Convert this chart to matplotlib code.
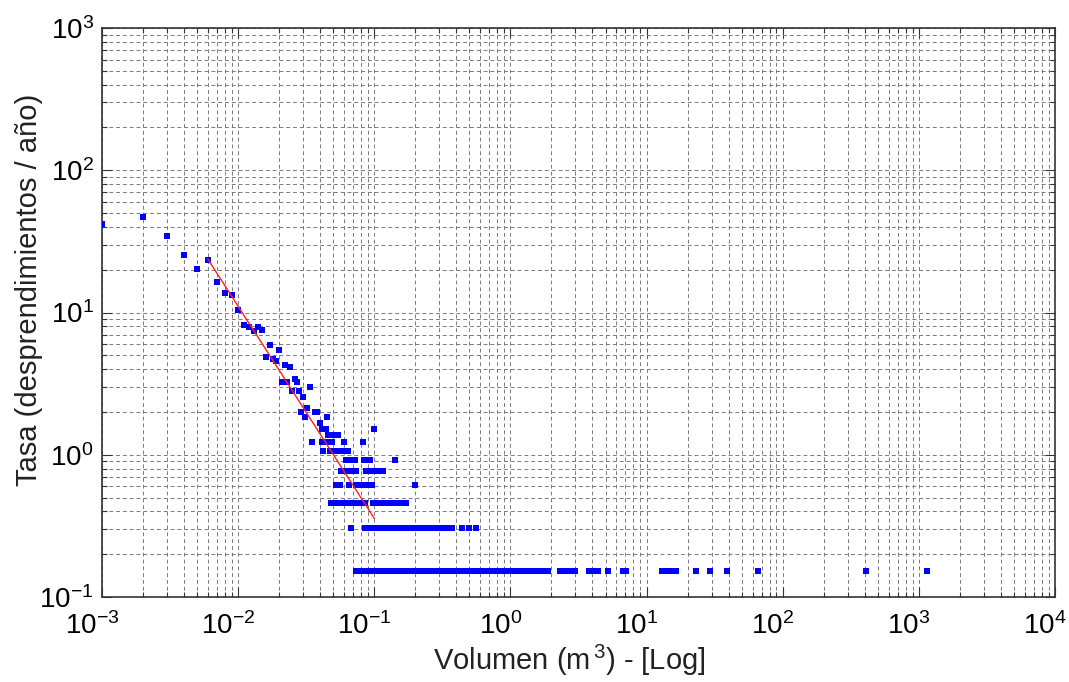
import numpy as np
import matplotlib.pyplot as plt
from matplotlib.transforms import ScaledTranslation
from matplotlib.ticker import LogLocator, NullFormatter

FUENTE = "Liberation Sans"
plt.rcParams["font.family"] = FUENTE
plt.rcParams["mathtext.fontset"] = "custom"
plt.rcParams["mathtext.rm"] = FUENTE
plt.rcParams["mathtext.it"] = FUENTE + ":italic"
plt.rcParams["mathtext.bf"] = FUENTE + ":bold"

AZUL = "#0000ff"
ROJO = "#ff2020"
GRIS = "#7a7a7a"

# Volúmenes con tasa dispersa (parte alta de la nube)
volumen_sup = [0.001, 0.002, 0.003, 0.004, 0.005, 0.006, 0.007, 0.008, 0.009, 0.010,
               0.011, 0.012, 0.013, 0.014, 0.015, 0.016, 0.017, 0.018, 0.019, 0.020,
               0.021, 0.022, 0.023, 0.024, 0.025, 0.026, 0.027, 0.028, 0.030, 0.034]
tasa_sup = [42.0, 47.0, 34.4, 25.2, 20.1, 23.3, 16.3, 13.8, 13.3, 10.4,
            8.2, 7.9, 7.4, 7.9, 7.5, 4.87, 5.9, 4.71, 4.58, 5.45,
            3.24, 4.30, 3.24, 4.16, 2.82, 3.43, 3.26, 2.82, 2.53, 2.98]

# Tasas bajas: cada nivel agrupa los volúmenes con la misma tasa
niveles = [0.153, 0.306, 0.459, 0.612, 0.765, 0.918, 1.07, 1.22, 1.38, 1.53, 1.68, 1.84, 1.99, 2.14]

vol_n1 = [0.074, 0.077, 0.082, 0.086, 0.090, 0.094, 0.098,
          0.10, 0.105, 0.11, 0.115, 0.12, 0.125, 0.13, 0.14, 0.15, 0.16, 0.17, 0.18,
          0.19, 0.20, 0.21, 0.22, 0.23, 0.24, 0.25, 0.27, 0.29, 0.31, 0.33, 0.35,
          0.37, 0.39, 0.41, 0.43, 0.46, 0.49, 0.52, 0.55, 0.58, 0.61, 0.65, 0.69,
          0.73, 0.77, 0.82, 0.87, 0.92, 0.97, 1.0, 1.05, 1.1, 1.17, 1.24, 1.31,
          1.39, 1.47, 1.56, 1.62, 1.70, 1.80, 1.90, 2.30, 2.45, 2.58, 2.80, 3.00,
          3.75, 4.0, 4.2, 4.4, 5.2, 6.7, 7.1, 13.0, 14.0, 15.2, 16.4,
          23.0, 29.0, 39.0, 66.0, 408.0, 1145.0]
vol_n2 = [0.067, 0.085, 0.089, 0.093, 0.097, 0.10, 0.105, 0.11, 0.115, 0.12,
          0.13, 0.14, 0.15, 0.16, 0.17, 0.18, 0.19, 0.20, 0.21, 0.22, 0.23,
          0.24, 0.25, 0.26, 0.27, 0.28, 0.31, 0.33, 0.35, 0.37, 0.44, 0.50, 0.56]
vol_n3 = [0.048, 0.050, 0.053, 0.056, 0.059, 0.062, 0.065, 0.069, 0.072, 0.075,
          0.078, 0.081, 0.085, 0.098, 0.107, 0.111, 0.115, 0.120, 0.124, 0.128,
          0.140, 0.146, 0.152, 0.158, 0.164, 0.170]
vol_n4 = [0.052, 0.056, 0.065, 0.073, 0.077, 0.081, 0.085, 0.089, 0.093, 0.097, 0.200]
vol_n5 = [0.057, 0.060, 0.063, 0.068, 0.071, 0.074, 0.087, 0.096, 0.100, 0.104,
          0.108, 0.112, 0.115]
vol_n6 = [0.062, 0.065, 0.068, 0.072, 0.084, 0.093, 0.143]
vol_n7 = [0.042, 0.047, 0.050, 0.055, 0.058, 0.061, 0.064]
vol_n8 = [0.035, 0.041, 0.043, 0.047, 0.049, 0.060, 0.083]
vol_n9 = [0.046, 0.051, 0.054]
vol_n10 = [0.041, 0.044, 0.100]
vol_n11 = [0.040]
vol_n12 = [0.031, 0.045]
vol_n13 = [0.029, 0.037, 0.038]
vol_n14 = [0.032]
vol_niveles = [vol_n1, vol_n2, vol_n3, vol_n4, vol_n5, vol_n6, vol_n7,
               vol_n8, vol_n9, vol_n10, vol_n11, vol_n12, vol_n13, vol_n14]

# Ajuste potencial (extremos del tramo ajustado)
ajuste_vol = [0.006, 0.1]
ajuste_tasa = [23.7, 0.357]

fig = plt.figure(figsize=(10.69, 6.82), dpi=100)
ax = fig.add_axes([0.0954, 0.1246, 0.8915, 0.8343])

ax.set_xscale("log")
ax.set_yscale("log")
ax.set_xlim(1e-3, 1e4)
ax.set_ylim(1e-1, 1e3)

ax.grid(True, which="both", color=GRIS, lw=0.7, ls=(0, (4, 3)))
ax.set_axisbelow(True)

ax.plot(volumen_sup, tasa_sup, "s", color=AZUL, ms=3.8, mew=0, zorder=3)
for nivel, vols in zip(niveles, vol_niveles):
    ax.plot(vols, [nivel] * len(vols), "s", color=AZUL, ms=3.8, mew=0, zorder=3)
ax.plot(ajuste_vol, ajuste_tasa, color=ROJO, lw=1.0, zorder=4)

ax.xaxis.set_major_locator(LogLocator(base=10, numticks=20))
ax.yaxis.set_major_locator(LogLocator(base=10, numticks=20))
ax.xaxis.set_minor_locator(LogLocator(base=10, subs=np.arange(2, 10), numticks=20))
ax.yaxis.set_minor_locator(LogLocator(base=10, subs=np.arange(2, 10), numticks=20))
ax.xaxis.set_minor_formatter(NullFormatter())
ax.yaxis.set_minor_formatter(NullFormatter())

ax.tick_params(which="both", direction="in", top=True, right=True,
               color="#333333", labelsize=20, width=0.8)
ax.tick_params(which="major", length=7)
ax.tick_params(axis="x", which="major", pad=11)
ax.tick_params(axis="y", which="major", pad=6)
ax.tick_params(which="minor", length=3.5)

# etiquetas del eje x algo desplazadas a la izquierda (estilo MATLAB)
desplaza = ScaledTranslation(-10 / 100, 0, fig.dpi_scale_trans)
for lab in ax.get_xticklabels():
    lab.set_transform(lab.get_transform() + desplaza)

for s in ax.spines.values():
    s.set_color("#333333")
    s.set_linewidth(1.2)

ax.set_xlabel(r"Volumen (m$^{\,3}$) - [Log]", fontsize=21, color="#222222")
ax.set_ylabel("Tasa (desprendimientos / año)", fontsize=21, color="#222222")
ax.xaxis.set_label_coords(0.49, -0.08)
ax.yaxis.set_label_coords(-0.062, 0.54)

fig.savefig("out.png", dpi=100, facecolor="white")
